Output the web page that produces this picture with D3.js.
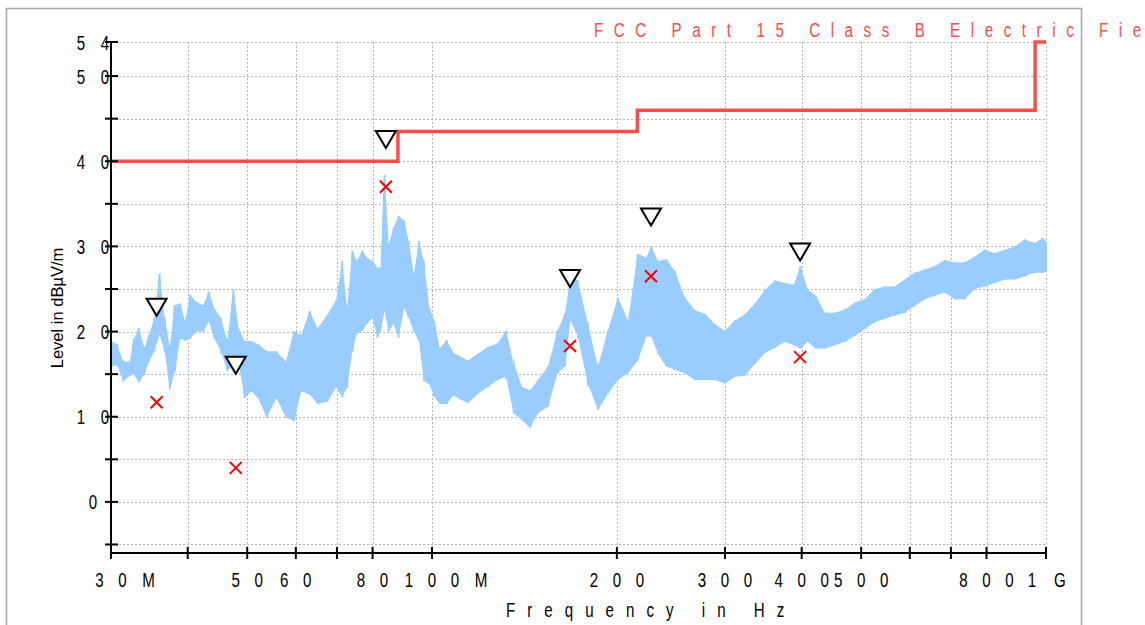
<!DOCTYPE html>
<html>
<head>
<meta charset="utf-8">
<script src="https://cdn.jsdelivr.net/npm/d3@7"></script>
<style>
  html, body { margin: 0; padding: 0; background: #ffffff; }
  svg { display: block; }
</style>
</head>
<body>
<div id="chart"></div>
<script>
// ############################################################################
// EMC scan: radiated emission vs. FCC Part 15 Class B limit
// ############################################################################

// ----------------------------------------------------------------------------
// Data
// ----------------------------------------------------------------------------

// Measured trace, read as a low/high envelope (MHz, dBµV/m)
const traceMHz = [
  30.0, 30.7, 31.4, 32.2, 32.7, 33.3, 34.0, 34.6, 35.3, 36.0,
  36.7, 37.4, 38.1, 38.9, 39.6, 40.4, 41.3, 42.4, 43.3, 44.2,
  45.3, 46.4, 47.5, 48.4, 49.5, 50.8, 52.1, 53.8, 55.8, 57.8,
  59.6, 61.2, 63.2, 65.1, 67.6, 69.8, 71.4, 72.7, 74.2, 75.4,
  77.0, 78.3, 80.0, 81.5, 82.4, 83.7, 85.0, 86.6, 88.2, 90.1,
  91.6, 93.4, 95.2, 97.0, 99.0, 100.9, 103.0, 105.6, 108.4, 111.5,
  114.4, 118.8, 123.3, 127.8, 132.0, 135.8, 140.2, 144.4, 148.8, 154.5,
  160.1, 164.6, 168.1, 172.8, 179.4, 186.3, 193.4, 200.8, 208.5, 216.4,
  223.4, 227.6, 233.3, 240.8, 248.6, 258.1, 268.0, 278.2, 288.8, 300.0,
  311.4, 323.3, 335.7, 348.5, 361.8, 375.7, 388.6, 398.1, 408.7, 421.9,
  436.4, 453.1, 470.3, 488.3, 506.9, 526.3, 546.4, 567.3, 588.9, 611.4,
  634.7, 658.9, 684.1, 710.2, 737.4, 765.6, 794.9, 825.2, 856.7, 889.4,
  923.4, 958.7, 988.0, 1000.0
]
const traceHigh = [
  18.9, 18.5, 16.5, 16.5, 19.2, 20.4, 18.1, 19.6, 21.6, 26.8,
  21.6, 18.1, 23.1, 23.3, 21.2, 24.3, 23.5, 23.1, 24.7, 22.7,
  21.6, 18.9, 24.9, 20.4, 18.9, 18.9, 18.5, 17.7, 17.7, 16.5,
  20.0, 19.6, 22.4, 20.4, 22.0, 23.7, 28.3, 22.8, 29.5, 28.3,
  29.5, 28.7, 28.3, 27.5, 27.5, 38.4, 30.2, 32.2, 33.6, 33.0,
  30.6, 26.7, 30.6, 28.3, 22.8, 21.2, 18.0, 19.0, 17.5, 17.0,
  16.6, 17.4, 18.2, 18.6, 20.1, 16.3, 13.5, 13.1, 14.3, 15.9,
  20.1, 22.1, 26.4, 26.0, 20.9, 15.9, 20.1, 24.0, 21.3, 29.1,
  28.7, 30.0, 28.3, 28.5, 27.1, 24.0, 22.5, 22.1, 20.9, 20.1,
  21.3, 22.0, 23.3, 24.9, 26.0, 25.7, 25.5, 27.7, 25.0, 24.2,
  22.2, 22.2, 22.6, 23.4, 23.8, 25.0, 25.3, 25.3, 26.1, 26.9,
  27.3, 27.7, 28.4, 28.1, 28.1, 28.8, 29.6, 29.2, 29.6, 30.0,
  30.8, 30.4, 31.0, 30.6
]
const traceLow = [
  15.9, 16.1, 14.2, 14.8, 15.0, 14.0, 15.0, 16.5, 17.7, 19.6,
  17.7, 13.2, 15.3, 19.2, 18.9, 19.2, 20.0, 20.0, 21.2, 19.2,
  17.7, 15.4, 16.1, 16.5, 12.2, 13.0, 12.2, 9.9, 12.2, 9.9,
  9.5, 13.0, 12.6, 11.5, 11.8, 13.5, 12.3, 13.4, 17.7, 19.7,
  20.1, 20.9, 21.6, 19.3, 20.0, 22.4, 20.0, 20.9, 19.3, 22.8,
  21.6, 20.0, 18.9, 14.2, 13.8, 12.3, 11.5, 11.5, 12.5, 12.0,
  11.6, 12.7, 13.5, 14.3, 14.7, 10.4, 9.6, 8.7, 10.4, 11.2,
  15.1, 15.9, 21.3, 19.4, 13.9, 10.8, 12.7, 14.3, 15.1, 16.6,
  19.4, 19.4, 17.4, 15.9, 15.5, 15.1, 14.3, 14.3, 14.3, 13.9,
  14.7, 14.8, 16.2, 17.5, 18.1, 18.8, 18.4, 18.0, 18.8, 18.0,
  18.0, 18.4, 18.8, 19.5, 20.3, 21.1, 21.5, 21.9, 22.2, 23.0,
  23.8, 24.2, 24.6, 23.8, 23.8, 25.0, 25.3, 25.7, 26.1, 26.1,
  26.5, 26.9, 26.9, 27.0
]

// FCC Part 15 Class B limit (step corners)
const limitMHz   = [30, 88, 88, 216, 216, 960, 960, 1000]
const limitLevel = [40, 40, 43.5, 43.5, 46, 46, 54, 54]

// Peak (triangle) and quasi-peak (cross) markers
const markerMHz  = [35.6, 47.9, 84.1, 167.8, 227.3, 397.6]
const peakLevel  = [22.9, 16.1, 42.6, 26.3, 33.5, 29.4]
const qpLevel    = [11.7, 4.0, 37.0, 18.3, 26.5, 17.0]

// Axes
const xTicks      = [30, 40, 50, 60, 70, 80, 100, 200, 300, 400, 500, 600, 700, 800, 1000]
const xTickLabels = ['30M', '', '50', '60', '', '80', '100M', '200', '300', '400', '500', '', '', '800', '1G']
const yTicks      = [-5, 0, 5, 10, 15, 20, 25, 30, 35, 40, 45, 50, 54]
const yTickLabels = ['', '0', '', '10', '', '20', '', '30', '', '40', '', '50', '54']

const legendText = 'FCC Part 15 Class B Electric Field'
const xTitle     = 'Frequency in Hz'
const yTitle     = 'Level in dBµV/m'

// ----------------------------------------------------------------------------
// Layout
// ----------------------------------------------------------------------------

const width  = 1145
const height = 625
const plot   = { left: 111, right: 1046, top: 42, bottom: 553 }

const traceColor = '#99ccff'
const limitColor = '#ff4b4b'
const gridColor  = '#b4b4b4'
const font       = "'Liberation Sans', Arial, sans-serif"
const squeeze    = 0.72   // narrow glyphs of the original instrument font

const svg = d3.select('#chart').append('svg')
  .attr('width', width)
  .attr('height', height)
  .style('font-family', font)

svg.append('rect')
  .attr('width', width).attr('height', height)
  .attr('fill', '#ffffff')

// Panel frame
svg.append('rect')
  .attr('x', 6.5).attr('y', 8.5)
  .attr('width', 1075).attr('height', 700)
  .attr('fill', 'none')
  .attr('stroke', '#a6a6a6')
  .attr('stroke-width', 1.5)

const x = d3.scaleLog().domain([30, 1000]).range([plot.left, plot.right])
const y = d3.scaleLinear().domain([-6, 54]).range([plot.bottom, plot.top])

// ----------------------------------------------------------------------------
// Helper: text with one glyph per given x centre (letter-spaced look)
// ----------------------------------------------------------------------------

function glyphRow(parent, chars, xs, baseline, size, color)
{
  parent.append('text')
    .attr('transform', `translate(0,${baseline}) scale(${squeeze},1)`)
    .attr('x', xs.map(v => (v / squeeze).toFixed(2)).join(' '))
    .attr('y', 0)
    .attr('text-anchor', 'middle')
    .style('font-size', size + 'px')
    .attr('fill', color)
    .text(chars)
}

function spacedText(parent, str, left, baseline, size, spacing, color)
{
  parent.append('text')
    .attr('transform', `translate(${left},${baseline}) scale(${squeeze},1)`)
    .attr('x', 0).attr('y', 0)
    .style('font-size', size + 'px')
    .style('letter-spacing', spacing + 'px')
    .attr('fill', color)
    .text(str)
}

// ----------------------------------------------------------------------------
// Grid
// ----------------------------------------------------------------------------

const grid = svg.append('g')
  .attr('stroke', gridColor)
  .attr('stroke-width', 1)
  .attr('stroke-dasharray', '2,2')

grid.selectAll('.hgrid').data(yTicks).join('line')
  .attr('x1', plot.left).attr('x2', plot.right)
  .attr('y1', d => Math.round(y(d)) + 0.5)
  .attr('y2', d => Math.round(y(d)) + 0.5)

grid.selectAll('.vgrid').data(xTicks.slice(1)).join('line')
  .attr('x1', d => Math.round(x(d)) + 0.5)
  .attr('x2', d => Math.round(x(d)) + 0.5)
  .attr('y1', plot.top).attr('y2', plot.bottom)

// ----------------------------------------------------------------------------
// Trace
// ----------------------------------------------------------------------------

const trace = traceMHz.map((f, i) => ({ f: f, lo: traceLow[i], hi: traceHigh[i] }))

svg.append('path')
  .datum(trace)
  .attr('fill', traceColor)
  .attr('d', d3.area()
    .x(d => x(d.f))
    .y0(d => y(d.lo))
    .y1(d => y(d.hi)))

const zig = []
trace.forEach(d => { zig.push([d.f, d.hi]); zig.push([d.f, d.lo]) })

svg.append('path')
  .datum(zig)
  .attr('fill', 'none')
  .attr('stroke', traceColor)
  .attr('stroke-width', 2)
  .attr('d', d3.line().x(d => x(d[0])).y(d => y(d[1])))

// ----------------------------------------------------------------------------
// Limit line
// ----------------------------------------------------------------------------

svg.append('path')
  .datum(limitMHz.map((f, i) => [f, limitLevel[i]]))
  .attr('fill', 'none')
  .attr('stroke', limitColor)
  .attr('stroke-width', 3.5)
  .attr('d', d3.line().x(d => x(d[0])).y(d => y(d[1])))

// ----------------------------------------------------------------------------
// Markers
// ----------------------------------------------------------------------------

const markers = markerMHz.map((f, i) => ({ f: f, pk: peakLevel[i], qp: qpLevel[i] }))

svg.selectAll('.peak').data(markers).join('path')
  .attr('transform', d => `translate(${x(d.f)},${y(d.pk)})`)
  .attr('d', 'M-10,-8L10,-8L0,9Z')
  .attr('fill', '#ffffff')
  .attr('stroke', '#000000')
  .attr('stroke-width', 2)
  .attr('stroke-linejoin', 'miter')

svg.selectAll('.qp').data(markers).join('path')
  .attr('transform', d => `translate(${x(d.f)},${y(d.qp)})`)
  .attr('d', 'M-6,-6L6,6M-6,6L6,-6')
  .attr('stroke', '#ff0000')
  .attr('stroke-width', 2)

// ----------------------------------------------------------------------------
// Axes
// ----------------------------------------------------------------------------

const axes = svg.append('g')
  .attr('stroke', '#000000')
  .attr('stroke-width', 2)

axes.append('line')
  .attr('x1', plot.left).attr('x2', plot.left)
  .attr('y1', plot.top).attr('y2', plot.bottom + 1)
axes.append('line')
  .attr('x1', plot.left - 1).attr('x2', plot.right)
  .attr('y1', plot.bottom).attr('y2', plot.bottom)

axes.selectAll('.ytick').data(yTicks).join('line')
  .attr('x1', plot.left - 6).attr('x2', plot.left + 7)
  .attr('y1', d => y(d)).attr('y2', d => y(d))

axes.selectAll('.xtick').data(xTicks).join('line')
  .attr('x1', d => x(d)).attr('x2', d => x(d))
  .attr('y1', plot.bottom - 6).attr('y2', plot.bottom + 6)

// Y tick labels: digits centred round a common column
yTicks.forEach((v, i) => {
  const label = yTickLabels[i]
  if (!label) return
  const pitch = 24
  const xs = label.split('').map((c, k) => 93 + (k - (label.length - 1) / 2) * pitch)
  glyphRow(svg, label, xs, y(v) + 7.5, 21, '#000000')
})

// X tick labels: the number is centred on its tick, the unit trails behind
xTicks.forEach((v, i) => {
  const label = xTickLabels[i]
  if (!label) return
  const tx = x(v)
  const pitch = 23
  const digits = label.replace(/[^0-9]/g, '')
  const unit = label.slice(digits.length)
  let xs
  if (v === 1000)
    xs = label.split('').map((c, k) => tx + (k - (label.length - 1) / 2) * 28)
  else
  {
    xs = digits.split('').map((c, k) => tx + (k - (digits.length - 1) / 2) * pitch)
    if (unit)
      xs.push(xs[xs.length - 1] + 26)
  }
  glyphRow(svg, label, xs, 586.5, 21, '#000000')
})

// ----------------------------------------------------------------------------
// Titles and legend
// ----------------------------------------------------------------------------

spacedText(svg, xTitle, 506, 617, 21, 16.7, '#000000')

svg.append('text')
  .attr('transform', 'translate(63,308) rotate(-90)')
  .attr('text-anchor', 'middle')
  .style('font-size', '16.5px')
  .attr('fill', '#000000')
  .text(yTitle)

// Legend entry runs past the right edge, as in the instrument screenshot
spacedText(svg, legendText, 594, 36.7, 21, 14.7, limitColor)
</script>
</body>
</html>
